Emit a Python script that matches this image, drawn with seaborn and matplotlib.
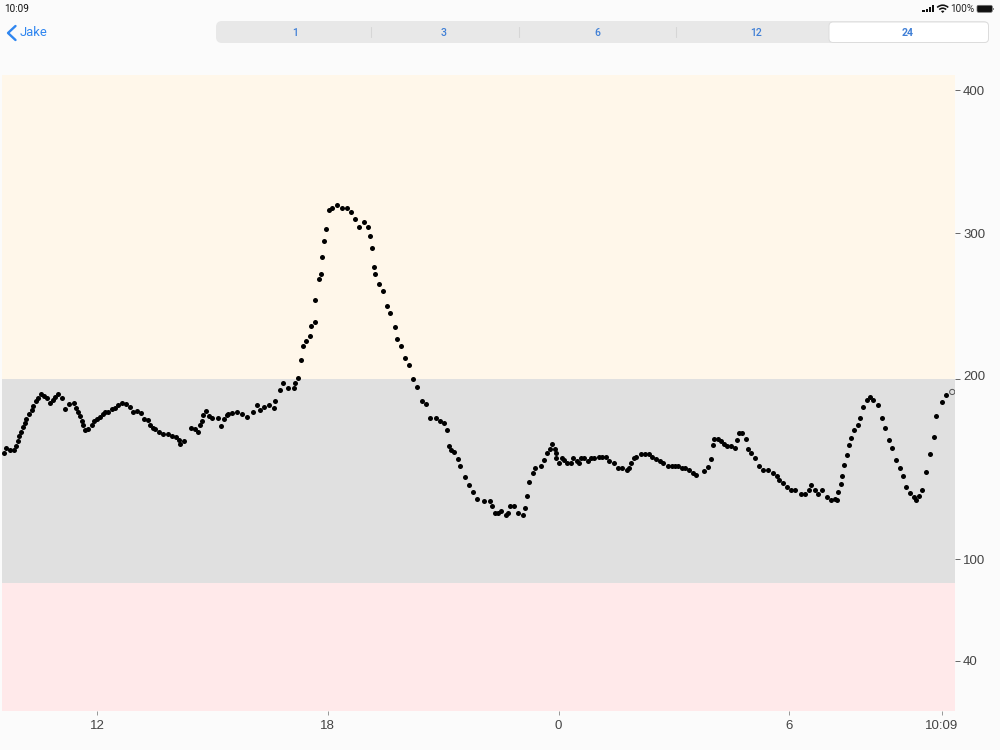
import numpy as np
import pandas as pd
import matplotlib
matplotlib.use("Agg")
import matplotlib.pyplot as plt
from matplotlib.lines import Line2D
from matplotlib.patches import FancyBboxPatch, Rectangle, Wedge
from matplotlib.transforms import ScaledTranslation
import seaborn as sns

# minutes since midnight of the first day, glucose in mg/dL
minutes = [
    575.5, 578, 584, 590.5, 593, 596, 598.3, 601.5, 604.6, 608, 610, 613.4, 618, 620, 624.3, 627.5,
    632, 637, 642.5, 646.7, 651, 655, 659.7, 665, 670.6, 676.3, 684.7, 687.8, 691, 693.5, 696.6, 698,
    701.3, 706.5, 712, 716, 720.5, 724.7, 729, 733, 737, 743.4, 748, 752.8, 759.5, 765, 771.5, 776.7,
    783, 788.7, 793.3, 800, 802.7, 807.4, 811, 817.3, 823.5, 830.8, 837, 843.3, 847.4, 850, 855,
    867, 872.4, 877.6, 880.7, 884.3, 886, 889.5, 894.7, 900, 908.8, 914, 918.7, 922.3, 925, 931,
    938.4, 946.7, 953.5, 964, 969, 974.8, 981, 989, 995.6, 998, 1006, 1010, 1018, 1027, 1029.4, 1034,
    1038.8, 1041.4, 1046.6, 1051.8, 1054.4, 1059.6, 1059.6, 1066.3, 1069, 1071.5, 1074, 1076.7, 1082,
    1087, 1095, 1101.7, 1109.5, 1116.3, 1122.5, 1129.3, 1136, 1142.3, 1146.4, 1149, 1151.6, 1153.2,
    1159.4, 1166.2, 1172.4, 1177.6, 1184.4, 1188.5, 1193.7, 1200.5, 1206.7, 1213.5, 1219.7,
    1226.5, 1233.3, 1239.5, 1248.9, 1255.6, 1261.9, 1266, 1269.7, 1272.8, 1277, 1283.2, 1286.8,
    1293.6, 1299.8, 1306.6, 1313.3, 1323.7, 1332.6, 1336.7, 1340.4, 1345.6, 1350.3, 1358, 1361.2,
    1364.3, 1371, 1377.3, 1384, 1387.7, 1390.3, 1394.5, 1399.7, 1403.8, 1412.7, 1416.8, 1422, 1426.2,
    1429.8, 1435, 1436.6, 1436.6, 1440.7, 1444.9, 1449, 1452.7, 1459, 1462.6, 1468.3, 1472, 1475,
    1479.7, 1486.5, 1490, 1495.9, 1503.7, 1508.3, 1513.5, 1519.3, 1526, 1532.3, 1539.5, 1546.8, 1550.5,
    1553, 1557.2, 1561.4, 1568.7, 1574.9, 1580.6, 1586.3, 1592.6, 1597.8, 1603.5, 1610.3, 1616.5,
    1621.7, 1626.9, 1632.6, 1637.3, 1643, 1649.3, 1654.5,
    1667.4, 1672.6, 1677.8, 1680.4, 1683, 1689.2, 1693.4, 1698.6, 1702.7, 1709.5, 1714.7, 1718.8, 1721,
    1726, 1731.8, 1736, 1740.2, 1746.4, 1752.6, 1759.4, 1766.2, 1774, 1780.2, 1783.3, 1789.6, 1795.8,
    1802.6, 1809.3, 1818.7, 1825, 1830, 1834.3, 1840.5, 1844.7, 1851.4, 1859.2, 1865.5, 1871.7, 1874.8,
    1876.4, 1880, 1882.6, 1885.2, 1890.4, 1893, 1895.6, 1900.8, 1907.6, 1910.2, 1915.4, 1920.6, 1925.8,
    1931, 1938.8, 1944.5, 1949.7, 1955, 1960, 1966.9, 1972, 1977.3, 1982.5, 1987.7, 1994.4, 1997, 2002.2,
    2007.4, 2012.6, 2018.9, 2025.6, 2029.3, 2037.6, 2044.4,
]
glucose = [
    158.7, 161.5, 160.4, 160.4, 162.8, 165.6, 168.3, 170.7, 173.1, 175.6, 178, 180.7, 182.8, 185.2, 187.8, 189.3,
    191.9, 190.7, 189.3, 186.5, 188.1, 190, 191.9, 189.3, 183.5, 185.9, 186.9, 184.1, 181.7, 179.3, 176.9, 174.4,
    171.9, 172.4, 174.3, 176.9, 178, 179.1, 180.4, 181.5, 181.9, 183.1, 184.1, 185.4, 186.9, 185.9, 184.3, 181.9,
    182, 181.1, 178, 177, 174.4, 173, 172.2, 170.7, 169.4, 169.4, 168.1, 167.8, 166.3, 163.7, 165.4,
    173, 172, 170.4, 174.4, 176.9, 179.8, 182.4, 179.4, 178.3, 178.5, 173.9, 177.8, 179.8, 180.7, 180.9,
    181.5, 180.4, 178.7, 181.5, 185.4, 182.8, 184.3, 185.7, 183.9, 187.8, 193.9, 197.6, 195.2, 195.2, 198, 200.4,
    213.3, 222.8, 226.5, 229.5, 236.4, 239.4, 254.4, 269.4, 272.4, 284.2, 295.5, 303.5, 317.2,
    318.5, 320.4, 318.5, 318.5, 315.3, 310.5, 305.4, 308.6, 305.4, 298.7, 290.6, 277.5, 272.4,
    265.7, 260.6, 250.7, 245.6, 235.7, 227.6, 222.6, 214.5, 209.6, 200, 195.7,
    187.8, 186.3, 178.3, 178.3, 176.9, 175.7, 171.9, 162.8, 160.4, 159.3, 155.7, 151.9,
    145.4, 141.3, 137.2, 133.3, 132.4, 132.2, 129.4, 125.4, 125.4, 126.7, 124.3, 125.4,
    129.3, 129.3, 125.4, 124.3, 128.5, 134.8, 142.8, 147.8, 150.7, 151.9, 154.8, 158.7, 161.3,
    163.9, 161.3, 158.7, 155.9, 153.3, 155.9, 155, 153.3, 153.3, 155.9, 154.6, 153.3, 155.9,
    155.9, 154.4, 155.9, 155.9, 156.9, 156.9, 156.9, 154.4, 153.3, 150.4, 150.4, 149.3, 150.4,
    153.3, 155.9, 156.9, 158.3, 158.3, 158.3, 156.9, 155.7, 154.4, 153.3, 151.9, 151.9,
    151.9, 151.9, 150.4, 150.4, 149.3, 147.8, 146.5,
    148.9, 151.3, 155.4, 163.3, 166.5, 166.5, 165.6, 163.9, 162.8, 162.8, 161.9, 165.9, 170,
    170, 166.9, 161.3, 158.9, 155.9, 151.9, 149.4, 149.4, 147.8, 146.3, 143.9, 142.4, 140,
    138.3, 138.3, 135.9, 135.9, 138.3, 140.9, 138.3, 135.9, 138.3, 134.4, 133, 133.3, 133,
    137.4, 141.9, 146.3, 152.4, 157.8, 163.1, 167.4, 171.9, 174.3, 178.3, 184.3, 188.3, 189.8,
    188.3, 185.4, 178.3, 172.8, 165.9, 161.9, 154.8, 150.7, 146.3, 139.8, 136.9, 134.4, 133, 134.8,
    138.3, 148.3, 158.3, 167.8, 179.3, 187.2, 190.9,
]
last_minute = [2054.2]
last_glucose = [192.8]

x_ticks = [720, 1080, 1440, 1800, 2038]
x_labels = ["12", "18", "0", "6", "10:09"]
y_ticks = [40, 100, 200, 300, 400]
range_names = ["1", "3", "6", "12", "24"]

bg = "#fbfbfb"
blue = "#2f86f0"
seg_blue = "#3f7fd6"
tick_col = "#444444"

sns.set_theme(style="white")
plt.rcParams["font.family"] = ["Liberation Sans", "DejaVu Sans"]

fig = plt.figure(figsize=(10, 7.5), dpi=100, facecolor=bg)

# plot area in pixels: x 2-955, y 75-711
ax = fig.add_axes([2 / 1000, 1 - 711 / 750, 953 / 1000, 636 / 750])
ax.set_facecolor(bg)

# the app stretches the axis below 200, so the scale is piecewise
y_knots = [10.2, 40, 100, 200, 410.4]
y_pos = [0, 50.4, 152, 332, 636]
ax.set_yscale("function", functions=(lambda v: np.interp(v, y_knots, y_pos),
                                     lambda p: np.interp(p, y_pos, y_knots)))

ax.axhspan(200, 410.4, color="#fff7ea", lw=0, zorder=0)
ax.axhspan(85.8, 200, color="#e0e0e0", lw=0, zorder=0)
ax.axhspan(10.2, 85.8, color="#ffe9ea", lw=0, zorder=0)

df = pd.DataFrame({"minute": minutes, "glucose": glucose})
sns.scatterplot(data=df, x="minute", y="glucose", color="black", s=13, linewidth=0, ax=ax, zorder=3)
sns.scatterplot(x=last_minute, y=last_glucose, facecolor="none", edgecolor="#555555", s=14, linewidth=0.7,
                ax=ax, zorder=3)

ax.set_xlim(571.8, 2058.5)
ax.set_ylim(10.2, 410.4)
ax.set_xlabel("")
ax.set_ylabel("")
sns.despine(ax=ax, left=True, bottom=True, right=True, top=True)

ax.set_xticks(x_ticks)
ax.set_xticklabels(x_labels)
ax.set_yticks(y_ticks)
ax.set_yticklabels([str(v) for v in y_ticks])
ax.minorticks_off()
ax.yaxis.tick_right()
ax.tick_params(axis="x", bottom=True, length=3.2, width=0.6, color="#888888", labelsize=9.5,
               labelcolor=tick_col, pad=3.5)
ax.tick_params(axis="y", right=True, length=3.8, width=0.7, color="#666666", labelsize=9.5,
               labelcolor=tick_col, pad=2)

# the 200 label sits a little above its tick, 300 is about a pixel high with its tick
for tick, v in zip(ax.yaxis.get_major_ticks(), y_ticks):
    if v == 200:
        tick.label2.set_transform(tick.label2.get_transform() + ScaledTranslation(0, 2.5 / 72, fig.dpi_scale_trans))
    if v == 300:
        shift = ScaledTranslation(0, 1 / 72, fig.dpi_scale_trans)
        tick.label2.set_transform(tick.label2.get_transform() + shift)
        tick.tick2line.set_transform(tick.tick2line.get_transform() + shift)

# app chrome on top, in pixel coordinates
top = fig.add_axes([0, 0, 1, 1], facecolor="none")
top.set_xlim(0, 1000)
top.set_ylim(750, 0)
top.axis("off")

top.text(4.5, 9, "10:09", fontsize=7.2, color="#111111", va="center", ha="left", family="Roboto")
top.text(20, 33, "Jake", fontsize=9.4, color=blue, va="center", ha="left", family="Roboto")
top.add_line(Line2D([15.5, 8, 15.5], [26, 33, 40], color=blue, lw=1.7))

top.add_patch(FancyBboxPatch((216, 21), 773, 22, boxstyle="round,pad=0,rounding_size=6",
                             fc="#e8e8e8", ec="none"))
top.add_patch(FancyBboxPatch((829, 22), 159.5, 20.5, boxstyle="round,pad=0,rounding_size=4",
                             fc="white", ec="#dcdcdc", lw=0.7))
for sx in [370.5, 518.5, 675.5]:
    top.add_line(Line2D([sx, sx], [27, 37], color="#d6d6d6", lw=0.8))
for name, sx in zip(range_names, [295, 444, 597, 756, 908]):
    top.text(sx, 32.5, name, fontsize=7.6, color=seg_blue, fontweight="bold" if name == "24" else "medium",
             ha="center", va="center", family="Roboto")

# status bar: signal, wifi, battery
for i, h in enumerate([2.5, 3.5, 5.5, 7.5]):
    top.add_patch(Rectangle((922.3 + i * 3.2, 12.3 - h), 2.4, h, fc="#111111", ec="none"))
for r, w in [(2.4, 2.4), (5.6, 1.6), (8.6, 1.6)]:
    top.add_patch(Wedge((942.7, 13), r, -135, -45, width=w, fc="#111111", ec="none"))
top.text(950.5, 9, "100%", fontsize=7.2, color="#222222", ha="left", va="center", family="Roboto")
top.add_patch(FancyBboxPatch((977, 5.3), 15.3, 7, boxstyle="round,pad=0,rounding_size=1.5",
                             fc="#111111", ec="#777777", lw=0.5))
top.add_patch(Rectangle((992.6, 7.5), 1.2, 2.6, fc="#888888", ec="none"))

fig.savefig("out.png", dpi=100, facecolor=bg)
